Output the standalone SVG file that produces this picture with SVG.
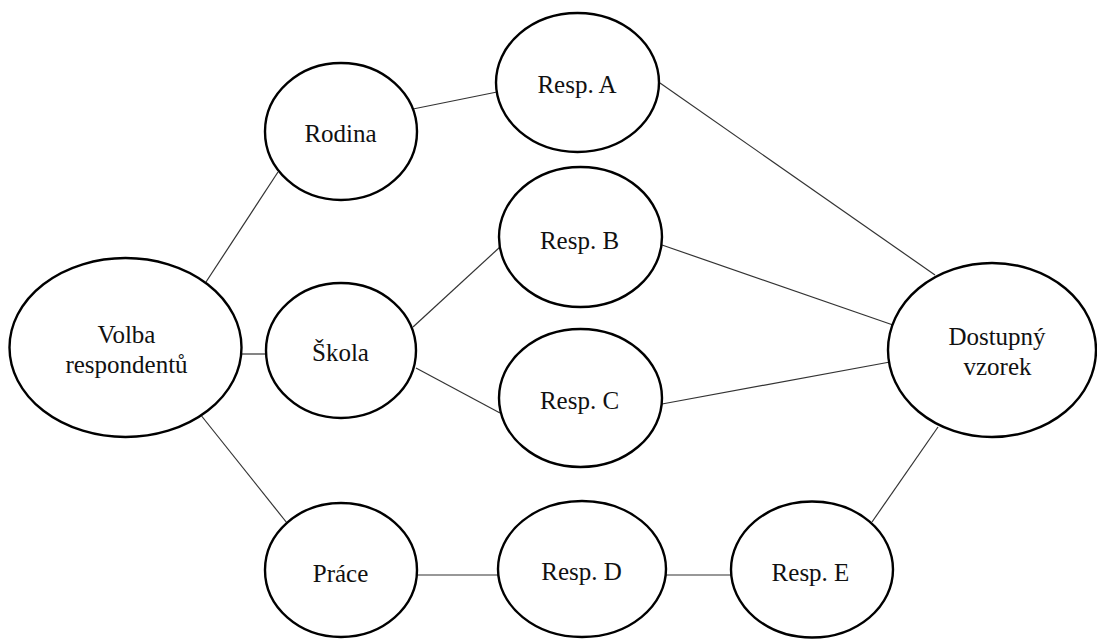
<svg xmlns="http://www.w3.org/2000/svg" width="1097" height="639" viewBox="0 0 1097 639">
<style>
.n{fill:#fff;stroke:#000;stroke-width:2.4}
.t{font-family:'Liberation Serif',Tinos,'Times New Roman',Times,'DejaVu Serif',serif;font-size:25px;fill:#111;text-anchor:middle}
.c line{stroke:#333;stroke-width:1.2}
</style>
<rect width="1097" height="639" fill="#fff"/>
<g class="c" id="connectors">
<line x1="206" y1="282" x2="278" y2="172"/>
<line x1="413" y1="109" x2="497" y2="92"/>
<line x1="241" y1="354" x2="266" y2="354"/>
<line x1="200" y1="414" x2="287" y2="523"/>
<line x1="413" y1="327" x2="500" y2="247"/>
<line x1="416" y1="368" x2="500" y2="413"/>
<line x1="660" y1="83" x2="935" y2="275"/>
<line x1="662" y1="245" x2="893" y2="325"/>
<line x1="662" y1="404" x2="890" y2="362"/>
<line x1="417" y1="575" x2="499" y2="575"/>
<line x1="665" y1="575" x2="731" y2="575"/>
<line x1="872" y1="522" x2="938" y2="427"/>
</g>
<g id="volba"><ellipse class="n" cx="125.5" cy="347.5" rx="116" ry="89.5"/><text class="t" x="126.5" y="343">Volba</text><text class="t" x="126.5" y="373">respondentů</text></g>
<g id="rodina"><ellipse class="n" cx="341" cy="131.5" rx="76" ry="68.5"/><text class="t" x="340.5" y="142">Rodina</text></g>
<g id="skola"><ellipse class="n" cx="341" cy="350.5" rx="75" ry="67.5"/><text class="t" x="340.5" y="361">Škola</text></g>
<g id="prace"><ellipse class="n" cx="341" cy="570" rx="76" ry="67"/><text class="t" x="340.5" y="582">Práce</text></g>
<g id="respA"><ellipse class="n" cx="577.5" cy="82.5" rx="81.5" ry="69.5"/><text class="t" x="577" y="93">Resp. A</text></g>
<g id="respB"><ellipse class="n" cx="580.5" cy="237" rx="81.5" ry="70"/><text class="t" x="579.5" y="249">Resp. B</text></g>
<g id="respC"><ellipse class="n" cx="580.5" cy="398" rx="81.5" ry="69"/><text class="t" x="579.5" y="409">Resp. C</text></g>
<g id="respD"><ellipse class="n" cx="582" cy="569" rx="84" ry="68"/><text class="t" x="581.5" y="580">Resp. D</text></g>
<g id="respE"><ellipse class="n" cx="812" cy="569.5" rx="81" ry="68"/><text class="t" x="810.5" y="581">Resp. E</text></g>
<g id="dostupny"><ellipse class="n" cx="992" cy="350" rx="104" ry="87"/><text class="t" x="997" y="345">Dostupný</text><text class="t" x="997.5" y="375">vzorek</text></g>
</svg>
